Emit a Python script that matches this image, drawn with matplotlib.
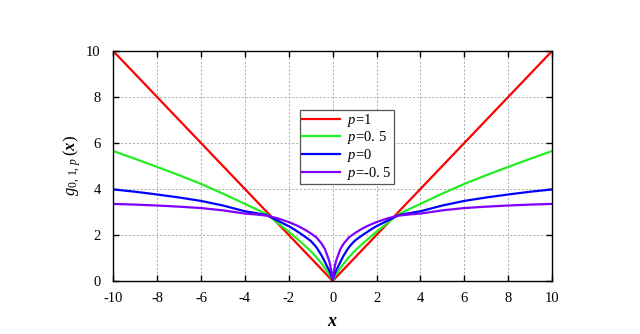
import numpy as np
import matplotlib
matplotlib.use('Agg')
import matplotlib.pyplot as plt

plt.rcParams['font.family'] = ['Liberation Serif', 'DejaVu Serif']
plt.rcParams['mathtext.fontset'] = 'custom'
plt.rcParams['mathtext.rm'] = 'Liberation Serif'
plt.rcParams['mathtext.it'] = 'Liberation Serif:italic'
plt.rcParams['mathtext.bf'] = 'Liberation Serif:bold:italic'
plt.rcParams['axes.unicode_minus'] = False

# values (curves are symmetric about x=0)
x_pos = [0, 0.05, 0.1, 0.15, 0.25, 0.35, 0.5, 0.75, 1.0, 1.25, 1.5, 1.75, 2.0, 2.5, 3.0, 3.5,
         4.0, 5.0, 6.0, 7.0, 8.0, 9.0, 10.0]
g_p1 = [0, 0.05, 0.1, 0.15, 0.25, 0.35, 0.5, 0.75, 1.0, 1.25, 1.5, 1.75, 2.0, 2.5, 3.0, 3.5,
        4.0, 5.0, 6.0, 7.0, 8.0, 9.0, 10.0]
g_p05 = [0, 0.1, 0.2, 0.28, 0.41, 0.55, 0.75, 1.04, 1.3, 1.52, 1.73, 1.94, 2.14, 2.52, 2.9, 3.13,
         3.35, 3.8, 4.22, 4.6, 4.96, 5.31, 5.65]
g_p0 = [0, 0.18, 0.33, 0.44, 0.62, 0.82, 1.1, 1.48, 1.74, 1.92, 2.08, 2.24, 2.38, 2.62, 2.86, 2.95,
        3.03, 3.28, 3.48, 3.63, 3.76, 3.88, 3.98]
g_pm05 = [0, 0.38, 0.62, 0.85, 1.12, 1.38, 1.62, 1.9, 2.07, 2.22, 2.35, 2.46, 2.56, 2.72, 2.84, 2.89,
          2.93, 3.07, 3.17, 3.23, 3.28, 3.32, 3.35]

labels = [r'$p$=1', r'$p$=0. 5', r'$p$=0', r'$p$=-0. 5']
colors = ['#ff0000', '#22ee22', '#0000ff', '#7f00ff']
series = [g_p1, g_p05, g_p0, g_pm05]

x_full = np.concatenate([-np.array(x_pos[::-1]), np.array(x_pos[1:])])

fig = plt.figure(figsize=(6.4, 3.34), dpi=100)
ax = fig.add_axes([0.177, 0.159, 0.6855, 0.688])

for ys, c, lab in zip(series, colors, labels):
    y_full = np.concatenate([np.array(ys[::-1]), np.array(ys[1:])])
    ax.plot(x_full, y_full, color=c, lw=1.6, label=lab)

ax.set_xlim(-10, 10)
ax.set_ylim(0, 10)
ax.set_xticks(np.arange(-10, 11, 2))
ax.set_yticks(np.arange(0, 11, 2))
ax.grid(True, color='#aaaaaa', linestyle=(0, (2, 2)), linewidth=0.7)
ax.tick_params(direction='in', top=True, right=True, length=4, width=1, labelsize=10.5)
ax.tick_params(axis='x', pad=8)
ax.tick_params(axis='y', pad=9)
for s in ax.spines.values():
    s.set_linewidth(1.0)

ax.set_xlabel(r'$\mathbf{x}$', fontsize=13, labelpad=6)
ax.set_ylabel(r'$g_{0,\,1,\,p}\,(\mathbf{x})$', fontsize=12, labelpad=2)

leg = ax.legend(loc='upper left', bbox_to_anchor=(0.425, 0.745), fontsize=10.5,
                fancybox=False, edgecolor='#555555', framealpha=1,
                handlelength=2.6, borderpad=0.15, labelspacing=0.04, handletextpad=0.5,
                borderaxespad=0)
leg.get_frame().set_linewidth(0.9)

fig.savefig('out.png', dpi=100)
